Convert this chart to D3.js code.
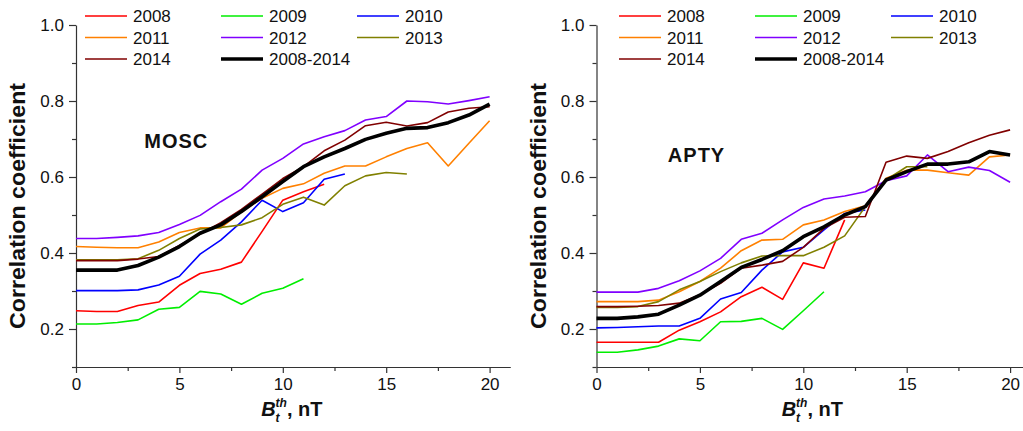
<!DOCTYPE html>
<html>
<head>
<meta charset="utf-8">
<script src="https://cdn.jsdelivr.net/npm/d3@7"></script>
<style>
  body { margin: 0; background: #fff; }
  svg { font-family: "Liberation Sans", Arial, sans-serif; }
  .axis path, .axis line { stroke: #333; stroke-width: 1.2; }
  .axis text { font-size: 17px; fill: #111; }
</style>
</head>
<body>
<svg width="1023" height="431"></svg>
<script>
// thresholds Bt^th, nT (index of each value = threshold)
let years = ["2008", "2009", "2010", "2011", "2012", "2013", "2014", "2008-2014"];
let colors = ["#ff0000", "#00ee00", "#0000ff", "#ff8000", "#8000ff", "#808000", "#800000", "#000000"];
let xTicks = [0, 5, 10, 15, 20];
let yTicks = [0.2, 0.4, 0.6, 0.8, 1.0];

let mosc2008 = [0.248, 0.246, 0.246, 0.262, 0.271, 0.315, 0.346, 0.357, 0.376, 0.457, 0.539, 0.561, 0.581];
let mosc2009 = [0.213, 0.213, 0.217, 0.224, 0.252, 0.257, 0.299, 0.292, 0.265, 0.294, 0.307, 0.332];
let mosc2010 = [0.301, 0.301, 0.301, 0.303, 0.316, 0.339, 0.397, 0.434, 0.482, 0.539, 0.509, 0.532, 0.594, 0.608];
let mosc2011 = [0.417, 0.415, 0.414, 0.414, 0.429, 0.454, 0.466, 0.466, 0.508, 0.544, 0.570, 0.582, 0.610, 0.629, 0.629, 0.653, 0.675, 0.690, 0.629, 0.689, 0.748];
let mosc2012 = [0.438, 0.438, 0.441, 0.445, 0.454, 0.475, 0.499, 0.535, 0.568, 0.618, 0.649, 0.687, 0.706, 0.722, 0.750, 0.759, 0.800, 0.798, 0.792, 0.801, 0.811];
let mosc2013 = [0.382, 0.382, 0.382, 0.385, 0.407, 0.438, 0.463, 0.467, 0.474, 0.493, 0.528, 0.547, 0.526, 0.577, 0.603, 0.612, 0.608];
let mosc2014 = [0.380, 0.380, 0.380, 0.384, 0.391, 0.420, 0.450, 0.480, 0.515, 0.555, 0.596, 0.627, 0.669, 0.697, 0.735, 0.744, 0.734, 0.743, 0.771, 0.781, 0.785];
let moscAll = [0.355, 0.355, 0.355, 0.367, 0.389, 0.417, 0.452, 0.474, 0.509, 0.548, 0.588, 0.627, 0.653, 0.675, 0.699, 0.715, 0.728, 0.730, 0.743, 0.763, 0.792];

let apty2008 = [0.165, 0.165, 0.165, 0.165, 0.197, 0.219, 0.245, 0.285, 0.310, 0.278, 0.374, 0.360, 0.487];
let apty2009 = [0.139, 0.139, 0.145, 0.155, 0.174, 0.169, 0.219, 0.220, 0.228, 0.199, 0.248, 0.298];
let apty2010 = [0.203, 0.204, 0.206, 0.208, 0.208, 0.228, 0.279, 0.296, 0.355, 0.403, 0.415, 0.461, 0.504, 0.513];
let apty2011 = [0.272, 0.272, 0.272, 0.276, 0.298, 0.325, 0.360, 0.406, 0.434, 0.436, 0.474, 0.487, 0.509, 0.524, 0.597, 0.618, 0.618, 0.611, 0.605, 0.653, 0.658];
let apty2012 = [0.297, 0.297, 0.297, 0.307, 0.327, 0.353, 0.386, 0.436, 0.452, 0.487, 0.520, 0.542, 0.550, 0.561, 0.590, 0.603, 0.658, 0.614, 0.626, 0.617, 0.586];
let apty2013 = [0.257, 0.257, 0.259, 0.272, 0.303, 0.325, 0.351, 0.374, 0.392, 0.393, 0.393, 0.415, 0.445, 0.522, 0.592, 0.627, 0.627];
let apty2014 = [0.259, 0.259, 0.260, 0.262, 0.268, 0.290, 0.320, 0.360, 0.368, 0.378, 0.415, 0.465, 0.494, 0.496, 0.639, 0.655, 0.649, 0.667, 0.690, 0.710, 0.724];
let aptyAll = [0.228, 0.228, 0.232, 0.239, 0.263, 0.289, 0.325, 0.362, 0.383, 0.406, 0.443, 0.469, 0.500, 0.522, 0.592, 0.614, 0.634, 0.634, 0.640, 0.667, 0.658];

let svg = d3.select("svg");

function drawPanel(left, station, series, labelPos, legendX) {
    let x = d3.scaleLinear().domain([0, 21]).range([left, left + 21 * 20.68]);
    let y = d3.scaleLinear().domain([0.1, 1.0]).range([367, 25]);
    let g = svg.append("g");

    // y axis: labelled major ticks + minor ticks
    g.append("g")
        .attr("class", "axis")
        .attr("transform", "translate(" + left + ",0)")
        .call(d3.axisLeft(y).tickValues(yTicks).tickSize(7).tickSizeOuter(0).tickPadding(5)
            .tickFormat(d3.format(".1f")));
    g.append("g")
        .attr("class", "axis")
        .attr("transform", "translate(" + left + ",0)")
        .call(d3.axisLeft(y).tickValues([0.1, 0.3, 0.5, 0.7, 0.9]).tickSize(4).tickFormat(""))
        .select(".domain").remove();

    // x axis
    g.append("g")
        .attr("class", "axis")
        .attr("transform", "translate(0,367)")
        .call(d3.axisBottom(x).tickValues(xTicks).tickSize(6).tickSizeOuter(0).tickPadding(5));
    g.append("g")
        .attr("class", "axis")
        .attr("transform", "translate(0,367)")
        .call(d3.axisBottom(x).tickValues([2.5, 7.5, 12.5, 17.5]).tickSize(4).tickFormat(""))
        .select(".domain").remove();

    // axis titles
    g.append("text")
        .attr("transform", "translate(" + (left - 51) + ",206) rotate(-90)")
        .attr("text-anchor", "middle")
        .attr("font-size", 22)
        .attr("font-weight", "bold")
        .attr("fill", "#111")
        .attr("textLength", 246)
        .attr("lengthAdjust", "spacingAndGlyphs")
        .text("Correlation coefficient");

    let xt = g.append("text")
        .attr("x", (x(0) + x(20)) / 2 + 9)
        .attr("y", 416)
        .attr("text-anchor", "middle")
        .attr("font-size", 20)
        .attr("font-weight", "bold")
        .attr("fill", "#111");
    xt.append("tspan").attr("font-style", "italic").text("B");
    xt.append("tspan").attr("font-style", "italic").attr("font-size", 12).attr("dy", 6).text("t");
    xt.append("tspan").attr("font-style", "italic").attr("font-size", 12).attr("dx", -4).attr("dy", -15).text("th");
    xt.append("tspan").attr("dy", 9).text(", nT");

    // lines
    let line = d3.line()
        .x((d, i) => x(i))
        .y(d => y(d));

    series.forEach(function (s, k) {
        g.append("path")
            .datum(s)
            .attr("fill", "none")
            .attr("stroke", colors[k])
            .attr("stroke-width", k === 7 ? 3.6 : 1.6)
            .attr("stroke-linejoin", "round")
            .attr("d", line);
    });

    // station label
    g.append("text")
        .attr("x", x(labelPos[0]))
        .attr("y", y(labelPos[1]))
        .attr("font-size", 20)
        .attr("font-weight", "bold")
        .attr("letter-spacing", 1)
        .attr("fill", "#111")
        .text(station);

    // legend, 3 columns
    let legend = g.append("g")
        .attr("font-size", 17)
        .selectAll("g")
        .data(years)
        .enter().append("g")
        .attr("transform", function (d, i) {
            return "translate(" + (legendX + (i % 3) * 136) + "," + (16 + Math.floor(i / 3) * 21.5) + ")";
        });

    legend.append("line")
        .attr("x1", 0)
        .attr("x2", 42)
        .attr("stroke", (d, i) => colors[i])
        .attr("stroke-width", (d, i) => i === 7 ? 3.6 : 1.6);

    legend.append("text")
        .attr("x", 48)
        .attr("dy", "0.36em")
        .attr("fill", "#111")
        .text(d => d);
}

drawPanel(76, "MOSC",
    [mosc2008, mosc2009, mosc2010, mosc2011, mosc2012, mosc2013, mosc2014, moscAll],
    [3.3, 0.676], 85);
drawPanel(596.5, "APTY",
    [apty2008, apty2009, apty2010, apty2011, apty2012, apty2013, apty2014, aptyAll],
    [3.45, 0.64], 619);
</script>
</body>
</html>
